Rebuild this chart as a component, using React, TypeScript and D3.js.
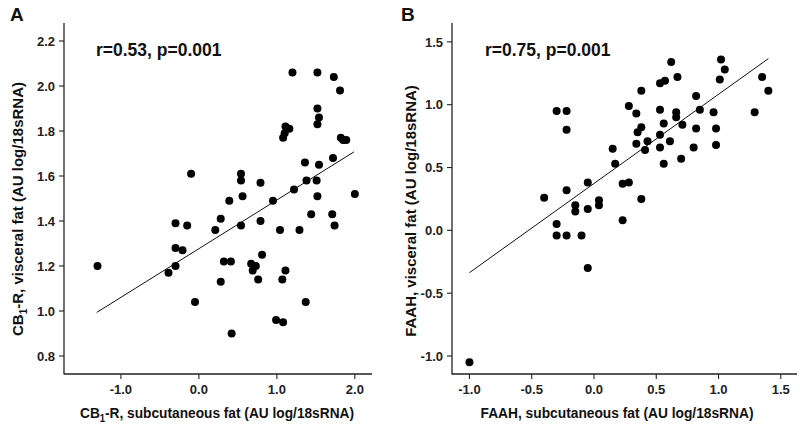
import React from "react";
import * as d3 from "d3";

// Panel A: CB1-R subcutaneous (x) vs visceral (y)
const cbSubcutaneous = [
  -1.30, -0.39, -0.30, -0.30, -0.21, -0.30, -0.15, -0.10, -0.05, 0.21,
  0.28, 0.28, 0.32, 0.41, 0.39, 0.42, 0.54, 0.56, 0.54, 0.54,
  0.67, 0.73, 0.69, 0.76, 0.79, 0.81, 0.79, 0.95, 1.04, 0.99,
  1.08, 1.07, 1.11, 1.20, 1.11, 1.16, 1.10, 1.08, 1.22, 1.29,
  1.36, 1.38, 1.37, 1.44, 1.51, 1.52, 1.52, 1.54, 1.52, 1.54,
  1.52, 1.71, 1.74, 1.73, 1.81, 1.72, 1.82, 1.85, 1.89, 2.00,
];
const cbVisceral = [
  1.20, 1.17, 1.20, 1.28, 1.27, 1.39, 1.38, 1.61, 1.04, 1.36,
  1.41, 1.13, 1.22, 1.22, 1.49, 0.90, 1.38, 1.51, 1.61, 1.58,
  1.21, 1.20, 1.18, 1.14, 1.40, 1.25, 1.57, 1.49, 1.36, 0.96,
  0.95, 1.14, 1.18, 2.06, 1.82, 1.81, 1.79, 1.77, 1.54, 1.36,
  1.66, 1.58, 1.04, 1.43, 1.58, 2.06, 1.90, 1.86, 1.83, 1.65,
  1.51, 1.43, 1.38, 2.04, 1.98, 1.68, 1.77, 1.76, 1.76, 1.52,
];

// Panel B: FAAH subcutaneous (x) vs visceral (y)
const faahSubcutaneous = [
  -1.00, -0.40, -0.30, -0.22, -0.22, -0.22, -0.30, -0.30, -0.22, -0.10,
  -0.15, -0.15, -0.05, -0.05, -0.05, 0.04, 0.04, 0.15, 0.17, 0.23,
  0.28, 0.23, 0.28, 0.34, 0.38, 0.35, 0.38, 0.34, 0.43, 0.41,
  0.38, 0.53, 0.57, 0.62, 0.67, 0.53, 0.53, 0.53, 0.56, 0.56,
  0.61, 0.66, 0.66, 0.71, 0.70, 0.82, 0.85, 0.82, 0.80, 0.96,
  0.98, 0.98, 1.02, 1.05, 1.01, 1.29, 1.35, 1.40,
];
const faahVisceral = [
  -1.05, 0.26, 0.95, 0.95, 0.80, 0.32, 0.05, -0.04, -0.04, -0.04,
  0.20, 0.15, 0.38, 0.17, -0.30, 0.24, 0.20, 0.65, 0.53, 0.37,
  0.38, 0.08, 0.99, 0.93, 1.11, 0.78, 0.82, 0.69, 0.71, 0.64,
  0.25, 1.17, 1.19, 1.34, 1.22, 0.96, 0.76, 0.66, 0.85, 0.53,
  0.71, 0.94, 0.90, 0.84, 0.57, 1.07, 0.96, 0.81, 0.66, 0.94,
  0.81, 0.68, 1.36, 1.28, 1.20, 0.94, 1.22, 1.11,
];

// Fitted regression lines: [slope, intercept], [xStart, xEnd]
const fitA = [0.2163, 1.277];
const fitARange = [-1.31, 1.99];
const fitB = [0.7097, 0.373];
const fitBRange = [-1.0, 1.40];

const xTicksA = [-1, 0, 1, 2];
const xTickLabelsA = ["-1.0", "0.0", "1.0", "2.0"];
const yTicksA = [0.8, 1.0, 1.2, 1.4, 1.6, 1.8, 2.0, 2.2];
const yTickLabelsA = ["0.8", "1.0", "1.2", "1.4", "1.6", "1.8", "2.0", "2.2"];

const xTicksB = [-1, -0.5, 0, 0.5, 1, 1.5];
const xTickLabelsB = ["-1.0", "-0.5", "0.0", "0.5", "1.0", "1.5"];
const yTicksB = [-1, -0.5, 0, 0.5, 1, 1.5];
const yTickLabelsB = ["-1.0", "-0.5", "0.0", "0.5", "1.0", "1.5"];

const FONT = "'Liberation Sans', Arial, Helvetica, sans-serif";

type PanelProps = {
  letter: string;
  letterX: number;
  xDomain: [number, number];
  yDomain: [number, number];
  xRange: [number, number];
  yRange: [number, number];
  xs: number[];
  ys: number[];
  fit: number[];
  fitRange: number[];
  xTicks: number[];
  xTickLabels: string[];
  yTicks: number[];
  yTickLabels: string[];
  stat: string;
  statX: number;
  xTitle: React.ReactNode;
  yTitle: React.ReactNode;
  xTitleX: number;
  xTitleLen: number;
  yTitleX: number;
  yTitleY: number;
};

function Panel(p: PanelProps) {
  const x = d3.scaleLinear().domain(p.xDomain).range(p.xRange);
  const y = d3.scaleLinear().domain(p.yDomain).range(p.yRange);
  const x0 = p.xRange[0];
  const y0 = p.yRange[0];
  const line = d3
    .line<number>()
    .x((d) => x(d))
    .y((d) => y(p.fit[0] * d + p.fit[1]));
  const axisColor = "#222";
  return (
    <g fontFamily={FONT}>
      <text x={p.letterX} y={21} fontSize={19} fontWeight="bold" fill="#111">
        {p.letter}
      </text>
      {/* axes */}
      <line x1={x0} x2={x0} y1={p.yRange[1]} y2={y0 + 0.5} stroke={axisColor} strokeWidth={1.3} />
      <line x1={x0} x2={p.xRange[1]} y1={y0} y2={y0} stroke={axisColor} strokeWidth={1.3} />
      {p.yTicks.map((t, i) => (
        <g key={"y" + i}>
          <line x1={x0 - 5} x2={x0} y1={y(t)} y2={y(t)} stroke={axisColor} strokeWidth={1.1} />
          <text
            x={x0 - 9}
            y={y(t)}
            dy="0.36em"
            textAnchor="end"
            fontSize={13}
            fontWeight="bold"
            fill="#222"
          >
            {p.yTickLabels[i]}
          </text>
        </g>
      ))}
      {p.xTicks.map((t, i) => (
        <g key={"x" + i}>
          <line x1={x(t)} x2={x(t)} y1={y0} y2={y0 + 5} stroke={axisColor} strokeWidth={1.1} />
          <text
            x={x(t)}
            y={y0 + 20}
            textAnchor="middle"
            fontSize={13}
            fontWeight="bold"
            fill="#222"
          >
            {p.xTickLabels[i]}
          </text>
        </g>
      ))}
      {/* regression */}
      <path d={line(p.fitRange) || ""} fill="none" stroke="#111" strokeWidth={1} />
      {/* points */}
      {p.xs.map((v, i) => (
        <circle key={i} cx={x(v)} cy={y(p.ys[i])} r={4} fill="#000" />
      ))}
      <text x={p.statX} y={56} fontSize={17.5} fontWeight="bold" fill="#111">
        {p.stat}
      </text>
      <text
        x={p.xTitleX}
        y={418}
        textAnchor="middle"
        fontSize={14.5}
        fontWeight="bold"
        fill="#111"
        textLength={p.xTitleLen}
        lengthAdjust="spacingAndGlyphs"
      >
        {p.xTitle}
      </text>
      <text
        transform={`translate(${p.yTitleX},${p.yTitleY}) rotate(-90)`}
        textAnchor="middle"
        fontSize={15}
        fontWeight="bold"
        fill="#111"
      >
        {p.yTitle}
      </text>
    </g>
  );
}

export default function App() {
  return (
    <svg
      width={800}
      height={426}
      viewBox="0 0 800 426"
      style={{ position: "absolute", left: 0, top: 0, background: "#fff" }}
    >
      <rect width={800} height={426} fill="#fff" />
      <Panel
        letter="A"
        letterX={10}
        xDomain={[-1.73, 2.22]}
        yDomain={[0.72, 2.28]}
        xRange={[64, 372]}
        yRange={[374, 23]}
        xs={cbSubcutaneous}
        ys={cbVisceral}
        fit={fitA}
        fitRange={fitARange}
        xTicks={xTicksA}
        xTickLabels={xTickLabelsA}
        yTicks={yTicksA}
        yTickLabels={yTickLabelsA}
        stat="r=0.53, p=0.001"
        statX={96}
        xTitle={
          <>
            CB<tspan fontSize={10} dy={4}>1</tspan>
            <tspan dy={-4}>-R, subcutaneous fat (AU log/18sRNA)</tspan>
          </>
        }
        yTitle={
          <>
            CB<tspan fontSize={10} dy={4}>1</tspan>
            <tspan dy={-4}>-R, visceral fat (AU log/18sRNA)</tspan>
          </>
        }
        xTitleX={217}
        xTitleLen={274}
        yTitleX={23}
        yTitleY={209}
      />
      <Panel
        letter="B"
        letterX={401}
        xDomain={[-1.14, 1.63]}
        yDomain={[-1.143, 1.65]}
        xRange={[452, 797]}
        yRange={[374, 23]}
        xs={faahSubcutaneous}
        ys={faahVisceral}
        fit={fitB}
        fitRange={fitBRange}
        xTicks={xTicksB}
        xTickLabels={xTickLabelsB}
        yTicks={yTicksB}
        yTickLabels={yTickLabelsB}
        stat="r=0.75, p=0.001"
        statX={485}
        xTitle={"FAAH, subcutaneous fat (AU log/18sRNA)"}
        xTitleX={617}
        xTitleLen={273}
        yTitle={"FAAH, visceral fat (AU log/18sRNA)"}
        yTitleX={416}
        yTitleY={211}
      />
    </svg>
  );
}
